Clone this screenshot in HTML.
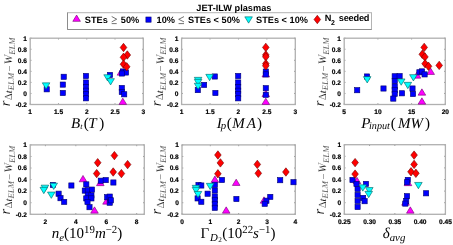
<!DOCTYPE html>
<html><head><meta charset="utf-8"><style>
html,body{margin:0;padding:0;background:#fff;width:453px;height:245px;overflow:hidden}
svg{display:block;will-change:transform} text{text-rendering:geometricPrecision}
.tl{font-family:"Liberation Sans",sans-serif;font-weight:bold;font-size:6.6px;fill:#000;stroke:#000;stroke-width:0.2px}
.title{font-family:"Liberation Sans",sans-serif;font-weight:bold;font-size:9.2px;fill:#000}
.lg{font-family:"Liberation Sans",sans-serif;font-weight:bold;font-size:9.2px;fill:#000}
.sym{font-family:"Liberation Serif",serif;font-weight:normal}
.lab{font-family:"Liberation Serif",serif;font-size:12px;fill:#000;stroke:#fff;stroke-width:0.15px;paint-order:normal}
.xl{font-family:"Liberation Serif",serif;font-size:15px;fill:#000}
.it{font-style:italic}
.sub{font-size:0.72em}
.sub2{font-size:0.75em}
</style></head><body>
<svg width="453" height="245" viewBox="0 0 453 245">
<rect width="453" height="245" fill="#fff"/>
<line x1="30.20" y1="104.5" x2="30.20" y2="103.2" stroke="#808080" stroke-width="0.8"/>
<line x1="30.20" y1="38.2" x2="30.20" y2="39.5" stroke="#808080" stroke-width="0.8"/>
<text x="30.20" y="114.10" class="tl" text-anchor="middle">1</text>
<line x1="58.48" y1="104.5" x2="58.48" y2="103.2" stroke="#808080" stroke-width="0.8"/>
<line x1="58.48" y1="38.2" x2="58.48" y2="39.5" stroke="#808080" stroke-width="0.8"/>
<text x="58.48" y="114.10" class="tl" text-anchor="middle">1.5</text>
<line x1="86.75" y1="104.5" x2="86.75" y2="103.2" stroke="#808080" stroke-width="0.8"/>
<line x1="86.75" y1="38.2" x2="86.75" y2="39.5" stroke="#808080" stroke-width="0.8"/>
<text x="86.75" y="114.10" class="tl" text-anchor="middle">2</text>
<line x1="115.03" y1="104.5" x2="115.03" y2="103.2" stroke="#808080" stroke-width="0.8"/>
<line x1="115.03" y1="38.2" x2="115.03" y2="39.5" stroke="#808080" stroke-width="0.8"/>
<text x="115.03" y="114.10" class="tl" text-anchor="middle">2.5</text>
<line x1="143.30" y1="104.5" x2="143.30" y2="103.2" stroke="#808080" stroke-width="0.8"/>
<line x1="143.30" y1="38.2" x2="143.30" y2="39.5" stroke="#808080" stroke-width="0.8"/>
<text x="143.30" y="114.10" class="tl" text-anchor="middle">3</text>
<line x1="30.2" y1="104.50" x2="31.5" y2="104.50" stroke="#808080" stroke-width="0.8"/>
<line x1="143.3" y1="104.50" x2="142.0" y2="104.50" stroke="#808080" stroke-width="0.8"/>
<text x="27.00" y="106.80" class="tl" text-anchor="end">-0.2</text>
<line x1="30.2" y1="93.45" x2="31.5" y2="93.45" stroke="#808080" stroke-width="0.8"/>
<line x1="143.3" y1="93.45" x2="142.0" y2="93.45" stroke="#808080" stroke-width="0.8"/>
<text x="27.00" y="95.75" class="tl" text-anchor="end">0</text>
<line x1="30.2" y1="82.40" x2="31.5" y2="82.40" stroke="#808080" stroke-width="0.8"/>
<line x1="143.3" y1="82.40" x2="142.0" y2="82.40" stroke="#808080" stroke-width="0.8"/>
<text x="27.00" y="84.70" class="tl" text-anchor="end">0.2</text>
<line x1="30.2" y1="71.35" x2="31.5" y2="71.35" stroke="#808080" stroke-width="0.8"/>
<line x1="143.3" y1="71.35" x2="142.0" y2="71.35" stroke="#808080" stroke-width="0.8"/>
<text x="27.00" y="73.65" class="tl" text-anchor="end">0.4</text>
<line x1="30.2" y1="60.30" x2="31.5" y2="60.30" stroke="#808080" stroke-width="0.8"/>
<line x1="143.3" y1="60.30" x2="142.0" y2="60.30" stroke="#808080" stroke-width="0.8"/>
<text x="27.00" y="62.60" class="tl" text-anchor="end">0.6</text>
<line x1="30.2" y1="49.25" x2="31.5" y2="49.25" stroke="#808080" stroke-width="0.8"/>
<line x1="143.3" y1="49.25" x2="142.0" y2="49.25" stroke="#808080" stroke-width="0.8"/>
<text x="27.00" y="51.55" class="tl" text-anchor="end">0.8</text>
<line x1="30.2" y1="38.20" x2="31.5" y2="38.20" stroke="#808080" stroke-width="0.8"/>
<line x1="143.3" y1="38.20" x2="142.0" y2="38.20" stroke="#808080" stroke-width="0.8"/>
<text x="27.00" y="40.50" class="tl" text-anchor="end">1</text>
<rect x="30.2" y="38.2" width="113.10000000000001" height="66.3" fill="none" stroke="#b0b0b0" stroke-width="1.3"/>
<path d="M121.00 68.85L124.80 75.15L117.20 75.15Z" fill="#ff00ff" stroke="#700070" stroke-width="0.6"/>
<path d="M122.80 98.15L126.60 104.45L119.00 104.45Z" fill="#ff00ff" stroke="#700070" stroke-width="0.6"/>
<rect x="44.10" y="86.70" width="5.2" height="5.2" fill="#0000ff" stroke="#000070" stroke-width="0.6"/>
<rect x="61.10" y="74.20" width="5.2" height="5.2" fill="#0000ff" stroke="#000070" stroke-width="0.6"/>
<rect x="60.20" y="82.00" width="5.2" height="5.2" fill="#0000ff" stroke="#000070" stroke-width="0.6"/>
<rect x="60.20" y="90.40" width="5.2" height="5.2" fill="#0000ff" stroke="#000070" stroke-width="0.6"/>
<rect x="83.40" y="73.40" width="5.2" height="5.2" fill="#0000ff" stroke="#000070" stroke-width="0.6"/>
<rect x="83.40" y="79.90" width="5.2" height="5.2" fill="#0000ff" stroke="#000070" stroke-width="0.6"/>
<rect x="83.40" y="84.40" width="5.2" height="5.2" fill="#0000ff" stroke="#000070" stroke-width="0.6"/>
<rect x="83.40" y="88.10" width="5.2" height="5.2" fill="#0000ff" stroke="#000070" stroke-width="0.6"/>
<rect x="83.40" y="91.60" width="5.2" height="5.2" fill="#0000ff" stroke="#000070" stroke-width="0.6"/>
<rect x="83.40" y="95.70" width="5.2" height="5.2" fill="#0000ff" stroke="#000070" stroke-width="0.6"/>
<rect x="107.40" y="72.40" width="5.2" height="5.2" fill="#0000ff" stroke="#000070" stroke-width="0.6"/>
<rect x="120.40" y="68.90" width="5.2" height="5.2" fill="#0000ff" stroke="#000070" stroke-width="0.6"/>
<rect x="123.40" y="69.90" width="5.2" height="5.2" fill="#0000ff" stroke="#000070" stroke-width="0.6"/>
<rect x="119.40" y="70.90" width="5.2" height="5.2" fill="#0000ff" stroke="#000070" stroke-width="0.6"/>
<rect x="119.20" y="85.40" width="5.2" height="5.2" fill="#0000ff" stroke="#000070" stroke-width="0.6"/>
<rect x="119.20" y="89.40" width="5.2" height="5.2" fill="#0000ff" stroke="#000070" stroke-width="0.6"/>
<rect x="121.60" y="91.70" width="5.2" height="5.2" fill="#0000ff" stroke="#000070" stroke-width="0.6"/>
<path d="M42.30 82.85L49.90 82.85L46.10 89.15Z" fill="#00ffff" stroke="#006060" stroke-width="0.6"/>
<path d="M103.80 74.75L111.40 74.75L107.60 81.05Z" fill="#00ffff" stroke="#006060" stroke-width="0.6"/>
<path d="M106.80 78.65L114.40 78.65L110.60 84.95Z" fill="#00ffff" stroke="#006060" stroke-width="0.6"/>
<path d="M123.50 43.30L126.80 47.50L123.50 51.70L120.20 47.50Z" fill="#ff0000" stroke="#700000" stroke-width="0.6"/>
<path d="M127.30 50.80L130.60 55.00L127.30 59.20L124.00 55.00Z" fill="#ff0000" stroke="#700000" stroke-width="0.6"/>
<path d="M123.50 53.10L126.80 57.30L123.50 61.50L120.20 57.30Z" fill="#ff0000" stroke="#700000" stroke-width="0.6"/>
<path d="M123.50 60.00L126.80 64.20L123.50 68.40L120.20 64.20Z" fill="#ff0000" stroke="#700000" stroke-width="0.6"/>
<path d="M126.70 62.60L130.00 66.80L126.70 71.00L123.40 66.80Z" fill="#ff0000" stroke="#700000" stroke-width="0.6"/>
<line x1="181.60" y1="104.5" x2="181.60" y2="103.2" stroke="#808080" stroke-width="0.8"/>
<line x1="181.60" y1="38.2" x2="181.60" y2="39.5" stroke="#808080" stroke-width="0.8"/>
<text x="181.60" y="114.10" class="tl" text-anchor="middle">1</text>
<line x1="210.03" y1="104.5" x2="210.03" y2="103.2" stroke="#808080" stroke-width="0.8"/>
<line x1="210.03" y1="38.2" x2="210.03" y2="39.5" stroke="#808080" stroke-width="0.8"/>
<text x="210.03" y="114.10" class="tl" text-anchor="middle">1.5</text>
<line x1="238.45" y1="104.5" x2="238.45" y2="103.2" stroke="#808080" stroke-width="0.8"/>
<line x1="238.45" y1="38.2" x2="238.45" y2="39.5" stroke="#808080" stroke-width="0.8"/>
<text x="238.45" y="114.10" class="tl" text-anchor="middle">2</text>
<line x1="266.88" y1="104.5" x2="266.88" y2="103.2" stroke="#808080" stroke-width="0.8"/>
<line x1="266.88" y1="38.2" x2="266.88" y2="39.5" stroke="#808080" stroke-width="0.8"/>
<text x="266.88" y="114.10" class="tl" text-anchor="middle">2.5</text>
<line x1="295.30" y1="104.5" x2="295.30" y2="103.2" stroke="#808080" stroke-width="0.8"/>
<line x1="295.30" y1="38.2" x2="295.30" y2="39.5" stroke="#808080" stroke-width="0.8"/>
<text x="295.30" y="114.10" class="tl" text-anchor="middle">3</text>
<line x1="181.6" y1="104.50" x2="182.9" y2="104.50" stroke="#808080" stroke-width="0.8"/>
<line x1="295.3" y1="104.50" x2="294.0" y2="104.50" stroke="#808080" stroke-width="0.8"/>
<text x="178.40" y="106.80" class="tl" text-anchor="end">-0.2</text>
<line x1="181.6" y1="93.45" x2="182.9" y2="93.45" stroke="#808080" stroke-width="0.8"/>
<line x1="295.3" y1="93.45" x2="294.0" y2="93.45" stroke="#808080" stroke-width="0.8"/>
<text x="178.40" y="95.75" class="tl" text-anchor="end">0</text>
<line x1="181.6" y1="82.40" x2="182.9" y2="82.40" stroke="#808080" stroke-width="0.8"/>
<line x1="295.3" y1="82.40" x2="294.0" y2="82.40" stroke="#808080" stroke-width="0.8"/>
<text x="178.40" y="84.70" class="tl" text-anchor="end">0.2</text>
<line x1="181.6" y1="71.35" x2="182.9" y2="71.35" stroke="#808080" stroke-width="0.8"/>
<line x1="295.3" y1="71.35" x2="294.0" y2="71.35" stroke="#808080" stroke-width="0.8"/>
<text x="178.40" y="73.65" class="tl" text-anchor="end">0.4</text>
<line x1="181.6" y1="60.30" x2="182.9" y2="60.30" stroke="#808080" stroke-width="0.8"/>
<line x1="295.3" y1="60.30" x2="294.0" y2="60.30" stroke="#808080" stroke-width="0.8"/>
<text x="178.40" y="62.60" class="tl" text-anchor="end">0.6</text>
<line x1="181.6" y1="49.25" x2="182.9" y2="49.25" stroke="#808080" stroke-width="0.8"/>
<line x1="295.3" y1="49.25" x2="294.0" y2="49.25" stroke="#808080" stroke-width="0.8"/>
<text x="178.40" y="51.55" class="tl" text-anchor="end">0.8</text>
<line x1="181.6" y1="38.20" x2="182.9" y2="38.20" stroke="#808080" stroke-width="0.8"/>
<line x1="295.3" y1="38.20" x2="294.0" y2="38.20" stroke="#808080" stroke-width="0.8"/>
<text x="178.40" y="40.50" class="tl" text-anchor="end">1</text>
<rect x="181.6" y="38.2" width="113.70000000000002" height="66.3" fill="none" stroke="#b0b0b0" stroke-width="1.3"/>
<path d="M265.80 70.65L269.60 76.95L262.00 76.95Z" fill="#ff00ff" stroke="#700070" stroke-width="0.6"/>
<path d="M265.80 90.35L269.60 96.65L262.00 96.65Z" fill="#ff00ff" stroke="#700070" stroke-width="0.6"/>
<path d="M265.80 98.15L269.60 104.45L262.00 104.45Z" fill="#ff00ff" stroke="#700070" stroke-width="0.6"/>
<rect x="195.20" y="87.50" width="5.2" height="5.2" fill="#0000ff" stroke="#000070" stroke-width="0.6"/>
<rect x="201.50" y="82.30" width="5.2" height="5.2" fill="#0000ff" stroke="#000070" stroke-width="0.6"/>
<rect x="212.20" y="73.90" width="5.2" height="5.2" fill="#0000ff" stroke="#000070" stroke-width="0.6"/>
<rect x="212.80" y="90.40" width="5.2" height="5.2" fill="#0000ff" stroke="#000070" stroke-width="0.6"/>
<rect x="235.60" y="73.40" width="5.2" height="5.2" fill="#0000ff" stroke="#000070" stroke-width="0.6"/>
<rect x="235.60" y="79.90" width="5.2" height="5.2" fill="#0000ff" stroke="#000070" stroke-width="0.6"/>
<rect x="235.60" y="84.40" width="5.2" height="5.2" fill="#0000ff" stroke="#000070" stroke-width="0.6"/>
<rect x="235.60" y="88.10" width="5.2" height="5.2" fill="#0000ff" stroke="#000070" stroke-width="0.6"/>
<rect x="235.60" y="91.60" width="5.2" height="5.2" fill="#0000ff" stroke="#000070" stroke-width="0.6"/>
<rect x="235.60" y="95.70" width="5.2" height="5.2" fill="#0000ff" stroke="#000070" stroke-width="0.6"/>
<rect x="263.20" y="69.00" width="5.2" height="5.2" fill="#0000ff" stroke="#000070" stroke-width="0.6"/>
<rect x="263.20" y="71.80" width="5.2" height="5.2" fill="#0000ff" stroke="#000070" stroke-width="0.6"/>
<rect x="263.20" y="85.60" width="5.2" height="5.2" fill="#0000ff" stroke="#000070" stroke-width="0.6"/>
<rect x="263.20" y="92.20" width="5.2" height="5.2" fill="#0000ff" stroke="#000070" stroke-width="0.6"/>
<path d="M194.30 77.35L201.90 77.35L198.10 83.65Z" fill="#00ffff" stroke="#006060" stroke-width="0.6"/>
<path d="M194.30 79.35L201.90 79.35L198.10 85.65Z" fill="#00ffff" stroke="#006060" stroke-width="0.6"/>
<path d="M194.30 83.25L201.90 83.25L198.10 89.55Z" fill="#00ffff" stroke="#006060" stroke-width="0.6"/>
<path d="M205.80 74.35L213.40 74.35L209.60 80.65Z" fill="#00ffff" stroke="#006060" stroke-width="0.6"/>
<path d="M265.80 43.20L269.10 47.40L265.80 51.60L262.50 47.40Z" fill="#ff0000" stroke="#700000" stroke-width="0.6"/>
<path d="M265.80 50.70L269.10 54.90L265.80 59.10L262.50 54.90Z" fill="#ff0000" stroke="#700000" stroke-width="0.6"/>
<path d="M265.80 52.55L269.10 56.75L265.80 60.95L262.50 56.75Z" fill="#ff0000" stroke="#700000" stroke-width="0.6"/>
<path d="M265.80 59.50L269.10 63.70L265.80 67.90L262.50 63.70Z" fill="#ff0000" stroke="#700000" stroke-width="0.6"/>
<path d="M265.80 61.60L269.10 65.80L265.80 70.00L262.50 65.80Z" fill="#ff0000" stroke="#700000" stroke-width="0.6"/>
<line x1="344.20" y1="104.5" x2="344.20" y2="103.2" stroke="#808080" stroke-width="0.8"/>
<line x1="344.20" y1="38.2" x2="344.20" y2="39.5" stroke="#808080" stroke-width="0.8"/>
<text x="344.20" y="114.10" class="tl" text-anchor="middle">5</text>
<line x1="377.90" y1="104.5" x2="377.90" y2="103.2" stroke="#808080" stroke-width="0.8"/>
<line x1="377.90" y1="38.2" x2="377.90" y2="39.5" stroke="#808080" stroke-width="0.8"/>
<text x="377.90" y="114.10" class="tl" text-anchor="middle">10</text>
<line x1="411.60" y1="104.5" x2="411.60" y2="103.2" stroke="#808080" stroke-width="0.8"/>
<line x1="411.60" y1="38.2" x2="411.60" y2="39.5" stroke="#808080" stroke-width="0.8"/>
<text x="411.60" y="114.10" class="tl" text-anchor="middle">15</text>
<line x1="445.30" y1="104.5" x2="445.30" y2="103.2" stroke="#808080" stroke-width="0.8"/>
<line x1="445.30" y1="38.2" x2="445.30" y2="39.5" stroke="#808080" stroke-width="0.8"/>
<text x="445.30" y="114.10" class="tl" text-anchor="middle">20</text>
<line x1="344.2" y1="104.50" x2="345.5" y2="104.50" stroke="#808080" stroke-width="0.8"/>
<line x1="445.3" y1="104.50" x2="444.0" y2="104.50" stroke="#808080" stroke-width="0.8"/>
<text x="341.00" y="106.80" class="tl" text-anchor="end">-0.2</text>
<line x1="344.2" y1="93.45" x2="345.5" y2="93.45" stroke="#808080" stroke-width="0.8"/>
<line x1="445.3" y1="93.45" x2="444.0" y2="93.45" stroke="#808080" stroke-width="0.8"/>
<text x="341.00" y="95.75" class="tl" text-anchor="end">0</text>
<line x1="344.2" y1="82.40" x2="345.5" y2="82.40" stroke="#808080" stroke-width="0.8"/>
<line x1="445.3" y1="82.40" x2="444.0" y2="82.40" stroke="#808080" stroke-width="0.8"/>
<text x="341.00" y="84.70" class="tl" text-anchor="end">0.2</text>
<line x1="344.2" y1="71.35" x2="345.5" y2="71.35" stroke="#808080" stroke-width="0.8"/>
<line x1="445.3" y1="71.35" x2="444.0" y2="71.35" stroke="#808080" stroke-width="0.8"/>
<text x="341.00" y="73.65" class="tl" text-anchor="end">0.4</text>
<line x1="344.2" y1="60.30" x2="345.5" y2="60.30" stroke="#808080" stroke-width="0.8"/>
<line x1="445.3" y1="60.30" x2="444.0" y2="60.30" stroke="#808080" stroke-width="0.8"/>
<text x="341.00" y="62.60" class="tl" text-anchor="end">0.6</text>
<line x1="344.2" y1="49.25" x2="345.5" y2="49.25" stroke="#808080" stroke-width="0.8"/>
<line x1="445.3" y1="49.25" x2="444.0" y2="49.25" stroke="#808080" stroke-width="0.8"/>
<text x="341.00" y="51.55" class="tl" text-anchor="end">0.8</text>
<line x1="344.2" y1="38.20" x2="345.5" y2="38.20" stroke="#808080" stroke-width="0.8"/>
<line x1="445.3" y1="38.20" x2="444.0" y2="38.20" stroke="#808080" stroke-width="0.8"/>
<text x="341.00" y="40.50" class="tl" text-anchor="end">1</text>
<rect x="344.2" y="38.2" width="101.10000000000002" height="66.3" fill="none" stroke="#b0b0b0" stroke-width="1.3"/>
<path d="M417.00 71.85L420.80 78.15L413.20 78.15Z" fill="#ff00ff" stroke="#700070" stroke-width="0.6"/>
<path d="M430.70 68.15L434.50 74.45L426.90 74.45Z" fill="#ff00ff" stroke="#700070" stroke-width="0.6"/>
<path d="M421.90 88.85L425.70 95.15L418.10 95.15Z" fill="#ff00ff" stroke="#700070" stroke-width="0.6"/>
<path d="M421.90 97.85L425.70 104.15L418.10 104.15Z" fill="#ff00ff" stroke="#700070" stroke-width="0.6"/>
<rect x="354.60" y="87.60" width="5.2" height="5.2" fill="#0000ff" stroke="#000070" stroke-width="0.6"/>
<rect x="364.40" y="73.90" width="5.2" height="5.2" fill="#0000ff" stroke="#000070" stroke-width="0.6"/>
<rect x="380.90" y="85.90" width="5.2" height="5.2" fill="#0000ff" stroke="#000070" stroke-width="0.6"/>
<rect x="392.10" y="73.70" width="5.2" height="5.2" fill="#0000ff" stroke="#000070" stroke-width="0.6"/>
<rect x="392.10" y="78.40" width="5.2" height="5.2" fill="#0000ff" stroke="#000070" stroke-width="0.6"/>
<rect x="392.10" y="83.90" width="5.2" height="5.2" fill="#0000ff" stroke="#000070" stroke-width="0.6"/>
<rect x="392.10" y="87.60" width="5.2" height="5.2" fill="#0000ff" stroke="#000070" stroke-width="0.6"/>
<rect x="392.10" y="91.20" width="5.2" height="5.2" fill="#0000ff" stroke="#000070" stroke-width="0.6"/>
<rect x="390.70" y="96.00" width="5.2" height="5.2" fill="#0000ff" stroke="#000070" stroke-width="0.6"/>
<rect x="397.00" y="73.50" width="5.2" height="5.2" fill="#0000ff" stroke="#000070" stroke-width="0.6"/>
<rect x="399.40" y="90.70" width="5.2" height="5.2" fill="#0000ff" stroke="#000070" stroke-width="0.6"/>
<rect x="409.90" y="85.90" width="5.2" height="5.2" fill="#0000ff" stroke="#000070" stroke-width="0.6"/>
<rect x="410.40" y="91.40" width="5.2" height="5.2" fill="#0000ff" stroke="#000070" stroke-width="0.6"/>
<rect x="416.80" y="69.70" width="5.2" height="5.2" fill="#0000ff" stroke="#000070" stroke-width="0.6"/>
<rect x="419.40" y="68.80" width="5.2" height="5.2" fill="#0000ff" stroke="#000070" stroke-width="0.6"/>
<rect x="422.00" y="71.80" width="5.2" height="5.2" fill="#0000ff" stroke="#000070" stroke-width="0.6"/>
<path d="M363.40 76.65L371.00 76.65L367.20 82.95Z" fill="#00ffff" stroke="#006060" stroke-width="0.6"/>
<path d="M397.40 78.95L405.00 78.95L401.20 85.25Z" fill="#00ffff" stroke="#006060" stroke-width="0.6"/>
<path d="M404.00 82.35L411.60 82.35L407.80 88.65Z" fill="#00ffff" stroke="#006060" stroke-width="0.6"/>
<path d="M409.60 74.65L417.20 74.65L413.40 80.95Z" fill="#00ffff" stroke="#006060" stroke-width="0.6"/>
<path d="M424.20 43.20L427.50 47.40L424.20 51.60L420.90 47.40Z" fill="#ff0000" stroke="#700000" stroke-width="0.6"/>
<path d="M422.30 50.10L425.60 54.30L422.30 58.50L419.00 54.30Z" fill="#ff0000" stroke="#700000" stroke-width="0.6"/>
<path d="M424.90 52.70L428.20 56.90L424.90 61.10L421.60 56.90Z" fill="#ff0000" stroke="#700000" stroke-width="0.6"/>
<path d="M425.10 59.50L428.40 63.70L425.10 67.90L421.80 63.70Z" fill="#ff0000" stroke="#700000" stroke-width="0.6"/>
<path d="M428.50 62.10L431.80 66.30L428.50 70.50L425.20 66.30Z" fill="#ff0000" stroke="#700000" stroke-width="0.6"/>
<path d="M439.20 61.20L442.50 65.40L439.20 69.60L435.90 65.40Z" fill="#ff0000" stroke="#700000" stroke-width="0.6"/>
<line x1="45.41" y1="214.3" x2="45.41" y2="213.0" stroke="#808080" stroke-width="0.8"/>
<line x1="45.41" y1="144.9" x2="45.41" y2="146.20000000000002" stroke="#808080" stroke-width="0.8"/>
<text x="45.41" y="223.90" class="tl" text-anchor="middle">2</text>
<line x1="75.84" y1="214.3" x2="75.84" y2="213.0" stroke="#808080" stroke-width="0.8"/>
<line x1="75.84" y1="144.9" x2="75.84" y2="146.20000000000002" stroke="#808080" stroke-width="0.8"/>
<text x="75.84" y="223.90" class="tl" text-anchor="middle">4</text>
<line x1="106.27" y1="214.3" x2="106.27" y2="213.0" stroke="#808080" stroke-width="0.8"/>
<line x1="106.27" y1="144.9" x2="106.27" y2="146.20000000000002" stroke="#808080" stroke-width="0.8"/>
<text x="106.27" y="223.90" class="tl" text-anchor="middle">6</text>
<line x1="136.69" y1="214.3" x2="136.69" y2="213.0" stroke="#808080" stroke-width="0.8"/>
<line x1="136.69" y1="144.9" x2="136.69" y2="146.20000000000002" stroke="#808080" stroke-width="0.8"/>
<text x="136.69" y="223.90" class="tl" text-anchor="middle">8</text>
<line x1="30.2" y1="214.30" x2="31.5" y2="214.30" stroke="#808080" stroke-width="0.8"/>
<line x1="144.3" y1="214.30" x2="143.0" y2="214.30" stroke="#808080" stroke-width="0.8"/>
<text x="27.00" y="216.60" class="tl" text-anchor="end">-0.2</text>
<line x1="30.2" y1="202.73" x2="31.5" y2="202.73" stroke="#808080" stroke-width="0.8"/>
<line x1="144.3" y1="202.73" x2="143.0" y2="202.73" stroke="#808080" stroke-width="0.8"/>
<text x="27.00" y="205.03" class="tl" text-anchor="end">0</text>
<line x1="30.2" y1="191.17" x2="31.5" y2="191.17" stroke="#808080" stroke-width="0.8"/>
<line x1="144.3" y1="191.17" x2="143.0" y2="191.17" stroke="#808080" stroke-width="0.8"/>
<text x="27.00" y="193.47" class="tl" text-anchor="end">0.2</text>
<line x1="30.2" y1="179.60" x2="31.5" y2="179.60" stroke="#808080" stroke-width="0.8"/>
<line x1="144.3" y1="179.60" x2="143.0" y2="179.60" stroke="#808080" stroke-width="0.8"/>
<text x="27.00" y="181.90" class="tl" text-anchor="end">0.4</text>
<line x1="30.2" y1="168.03" x2="31.5" y2="168.03" stroke="#808080" stroke-width="0.8"/>
<line x1="144.3" y1="168.03" x2="143.0" y2="168.03" stroke="#808080" stroke-width="0.8"/>
<text x="27.00" y="170.33" class="tl" text-anchor="end">0.6</text>
<line x1="30.2" y1="156.47" x2="31.5" y2="156.47" stroke="#808080" stroke-width="0.8"/>
<line x1="144.3" y1="156.47" x2="143.0" y2="156.47" stroke="#808080" stroke-width="0.8"/>
<text x="27.00" y="158.77" class="tl" text-anchor="end">0.8</text>
<line x1="30.2" y1="144.90" x2="31.5" y2="144.90" stroke="#808080" stroke-width="0.8"/>
<line x1="144.3" y1="144.90" x2="143.0" y2="144.90" stroke="#808080" stroke-width="0.8"/>
<text x="27.00" y="147.20" class="tl" text-anchor="end">1</text>
<rect x="30.2" y="144.9" width="114.10000000000001" height="69.4" fill="none" stroke="#b0b0b0" stroke-width="1.3"/>
<path d="M83.00 175.45L86.80 181.75L79.20 181.75Z" fill="#ff00ff" stroke="#700070" stroke-width="0.6"/>
<path d="M100.30 179.35L104.10 185.65L96.50 185.65Z" fill="#ff00ff" stroke="#700070" stroke-width="0.6"/>
<path d="M106.50 197.85L110.30 204.15L102.70 204.15Z" fill="#ff00ff" stroke="#700070" stroke-width="0.6"/>
<path d="M94.50 206.85L98.30 213.15L90.70 213.15Z" fill="#ff00ff" stroke="#700070" stroke-width="0.6"/>
<rect x="50.30" y="182.40" width="5.2" height="5.2" fill="#0000ff" stroke="#000070" stroke-width="0.6"/>
<rect x="56.00" y="191.10" width="5.2" height="5.2" fill="#0000ff" stroke="#000070" stroke-width="0.6"/>
<rect x="57.90" y="195.60" width="5.2" height="5.2" fill="#0000ff" stroke="#000070" stroke-width="0.6"/>
<rect x="61.60" y="199.30" width="5.2" height="5.2" fill="#0000ff" stroke="#000070" stroke-width="0.6"/>
<rect x="68.80" y="182.90" width="5.2" height="5.2" fill="#0000ff" stroke="#000070" stroke-width="0.6"/>
<rect x="83.70" y="181.80" width="5.2" height="5.2" fill="#0000ff" stroke="#000070" stroke-width="0.6"/>
<rect x="82.20" y="188.00" width="5.2" height="5.2" fill="#0000ff" stroke="#000070" stroke-width="0.6"/>
<rect x="85.20" y="187.70" width="5.2" height="5.2" fill="#0000ff" stroke="#000070" stroke-width="0.6"/>
<rect x="89.30" y="187.00" width="5.2" height="5.2" fill="#0000ff" stroke="#000070" stroke-width="0.6"/>
<rect x="85.20" y="192.10" width="5.2" height="5.2" fill="#0000ff" stroke="#000070" stroke-width="0.6"/>
<rect x="88.80" y="192.80" width="5.2" height="5.2" fill="#0000ff" stroke="#000070" stroke-width="0.6"/>
<rect x="83.70" y="195.80" width="5.2" height="5.2" fill="#0000ff" stroke="#000070" stroke-width="0.6"/>
<rect x="88.80" y="195.80" width="5.2" height="5.2" fill="#0000ff" stroke="#000070" stroke-width="0.6"/>
<rect x="84.90" y="199.40" width="5.2" height="5.2" fill="#0000ff" stroke="#000070" stroke-width="0.6"/>
<rect x="86.90" y="204.60" width="5.2" height="5.2" fill="#0000ff" stroke="#000070" stroke-width="0.6"/>
<rect x="98.20" y="178.10" width="5.2" height="5.2" fill="#0000ff" stroke="#000070" stroke-width="0.6"/>
<rect x="103.10" y="177.50" width="5.2" height="5.2" fill="#0000ff" stroke="#000070" stroke-width="0.6"/>
<rect x="110.80" y="179.90" width="5.2" height="5.2" fill="#0000ff" stroke="#000070" stroke-width="0.6"/>
<rect x="104.60" y="194.60" width="5.2" height="5.2" fill="#0000ff" stroke="#000070" stroke-width="0.6"/>
<rect x="107.10" y="194.00" width="5.2" height="5.2" fill="#0000ff" stroke="#000070" stroke-width="0.6"/>
<rect x="107.10" y="200.10" width="5.2" height="5.2" fill="#0000ff" stroke="#000070" stroke-width="0.6"/>
<rect x="108.30" y="197.70" width="5.2" height="5.2" fill="#0000ff" stroke="#000070" stroke-width="0.6"/>
<path d="M41.10 185.15L48.70 185.15L44.90 191.45Z" fill="#00ffff" stroke="#006060" stroke-width="0.6"/>
<path d="M40.00 187.35L47.60 187.35L43.80 193.65Z" fill="#00ffff" stroke="#006060" stroke-width="0.6"/>
<path d="M49.90 183.15L57.50 183.15L53.70 189.45Z" fill="#00ffff" stroke="#006060" stroke-width="0.6"/>
<path d="M47.50 192.05L55.10 192.05L51.30 198.35Z" fill="#00ffff" stroke="#006060" stroke-width="0.6"/>
<path d="M114.40 151.40L117.70 155.60L114.40 159.80L111.10 155.60Z" fill="#ff0000" stroke="#700000" stroke-width="0.6"/>
<path d="M97.70 158.50L101.00 162.70L97.70 166.90L94.40 162.70Z" fill="#ff0000" stroke="#700000" stroke-width="0.6"/>
<path d="M127.60 160.40L130.90 164.60L127.60 168.80L124.30 164.60Z" fill="#ff0000" stroke="#700000" stroke-width="0.6"/>
<path d="M96.70 169.40L100.00 173.60L96.70 177.80L93.40 173.60Z" fill="#ff0000" stroke="#700000" stroke-width="0.6"/>
<path d="M113.20 167.80L116.50 172.00L113.20 176.20L109.90 172.00Z" fill="#ff0000" stroke="#700000" stroke-width="0.6"/>
<path d="M121.40 169.40L124.70 173.60L121.40 177.80L118.10 173.60Z" fill="#ff0000" stroke="#700000" stroke-width="0.6"/>
<line x1="182.00" y1="214.3" x2="182.00" y2="213.0" stroke="#808080" stroke-width="0.8"/>
<line x1="182.00" y1="144.9" x2="182.00" y2="146.20000000000002" stroke="#808080" stroke-width="0.8"/>
<text x="182.00" y="223.90" class="tl" text-anchor="middle">0</text>
<line x1="210.32" y1="214.3" x2="210.32" y2="213.0" stroke="#808080" stroke-width="0.8"/>
<line x1="210.32" y1="144.9" x2="210.32" y2="146.20000000000002" stroke="#808080" stroke-width="0.8"/>
<text x="210.32" y="223.90" class="tl" text-anchor="middle">1</text>
<line x1="238.65" y1="214.3" x2="238.65" y2="213.0" stroke="#808080" stroke-width="0.8"/>
<line x1="238.65" y1="144.9" x2="238.65" y2="146.20000000000002" stroke="#808080" stroke-width="0.8"/>
<text x="238.65" y="223.90" class="tl" text-anchor="middle">2</text>
<line x1="266.98" y1="214.3" x2="266.98" y2="213.0" stroke="#808080" stroke-width="0.8"/>
<line x1="266.98" y1="144.9" x2="266.98" y2="146.20000000000002" stroke="#808080" stroke-width="0.8"/>
<text x="266.98" y="223.90" class="tl" text-anchor="middle">3</text>
<line x1="295.30" y1="214.3" x2="295.30" y2="213.0" stroke="#808080" stroke-width="0.8"/>
<line x1="295.30" y1="144.9" x2="295.30" y2="146.20000000000002" stroke="#808080" stroke-width="0.8"/>
<text x="295.30" y="223.90" class="tl" text-anchor="middle">4</text>
<line x1="182.0" y1="214.30" x2="183.3" y2="214.30" stroke="#808080" stroke-width="0.8"/>
<line x1="295.3" y1="214.30" x2="294.0" y2="214.30" stroke="#808080" stroke-width="0.8"/>
<text x="178.80" y="216.60" class="tl" text-anchor="end">-0.2</text>
<line x1="182.0" y1="202.73" x2="183.3" y2="202.73" stroke="#808080" stroke-width="0.8"/>
<line x1="295.3" y1="202.73" x2="294.0" y2="202.73" stroke="#808080" stroke-width="0.8"/>
<text x="178.80" y="205.03" class="tl" text-anchor="end">0</text>
<line x1="182.0" y1="191.17" x2="183.3" y2="191.17" stroke="#808080" stroke-width="0.8"/>
<line x1="295.3" y1="191.17" x2="294.0" y2="191.17" stroke="#808080" stroke-width="0.8"/>
<text x="178.80" y="193.47" class="tl" text-anchor="end">0.2</text>
<line x1="182.0" y1="179.60" x2="183.3" y2="179.60" stroke="#808080" stroke-width="0.8"/>
<line x1="295.3" y1="179.60" x2="294.0" y2="179.60" stroke="#808080" stroke-width="0.8"/>
<text x="178.80" y="181.90" class="tl" text-anchor="end">0.4</text>
<line x1="182.0" y1="168.03" x2="183.3" y2="168.03" stroke="#808080" stroke-width="0.8"/>
<line x1="295.3" y1="168.03" x2="294.0" y2="168.03" stroke="#808080" stroke-width="0.8"/>
<text x="178.80" y="170.33" class="tl" text-anchor="end">0.6</text>
<line x1="182.0" y1="156.47" x2="183.3" y2="156.47" stroke="#808080" stroke-width="0.8"/>
<line x1="295.3" y1="156.47" x2="294.0" y2="156.47" stroke="#808080" stroke-width="0.8"/>
<text x="178.80" y="158.77" class="tl" text-anchor="end">0.8</text>
<line x1="182.0" y1="144.90" x2="183.3" y2="144.90" stroke="#808080" stroke-width="0.8"/>
<line x1="295.3" y1="144.90" x2="294.0" y2="144.90" stroke="#808080" stroke-width="0.8"/>
<text x="178.80" y="147.20" class="tl" text-anchor="end">1</text>
<rect x="182.0" y="144.9" width="113.30000000000001" height="69.4" fill="none" stroke="#b0b0b0" stroke-width="1.3"/>
<path d="M214.90 176.05L218.70 182.35L211.10 182.35Z" fill="#ff00ff" stroke="#700070" stroke-width="0.6"/>
<path d="M236.20 179.15L240.00 185.45L232.40 185.45Z" fill="#ff00ff" stroke="#700070" stroke-width="0.6"/>
<path d="M226.20 206.85L230.00 213.15L222.40 213.15Z" fill="#ff00ff" stroke="#700070" stroke-width="0.6"/>
<path d="M264.00 196.85L267.80 203.15L260.20 203.15Z" fill="#ff00ff" stroke="#700070" stroke-width="0.6"/>
<rect x="195.90" y="182.40" width="5.2" height="5.2" fill="#0000ff" stroke="#000070" stroke-width="0.6"/>
<rect x="198.70" y="182.90" width="5.2" height="5.2" fill="#0000ff" stroke="#000070" stroke-width="0.6"/>
<rect x="195.00" y="195.80" width="5.2" height="5.2" fill="#0000ff" stroke="#000070" stroke-width="0.6"/>
<rect x="198.70" y="199.20" width="5.2" height="5.2" fill="#0000ff" stroke="#000070" stroke-width="0.6"/>
<rect x="205.00" y="191.10" width="5.2" height="5.2" fill="#0000ff" stroke="#000070" stroke-width="0.6"/>
<rect x="212.20" y="182.20" width="5.2" height="5.2" fill="#0000ff" stroke="#000070" stroke-width="0.6"/>
<rect x="212.20" y="187.90" width="5.2" height="5.2" fill="#0000ff" stroke="#000070" stroke-width="0.6"/>
<rect x="212.20" y="193.90" width="5.2" height="5.2" fill="#0000ff" stroke="#000070" stroke-width="0.6"/>
<rect x="212.20" y="197.60" width="5.2" height="5.2" fill="#0000ff" stroke="#000070" stroke-width="0.6"/>
<rect x="212.20" y="201.20" width="5.2" height="5.2" fill="#0000ff" stroke="#000070" stroke-width="0.6"/>
<rect x="212.20" y="205.20" width="5.2" height="5.2" fill="#0000ff" stroke="#000070" stroke-width="0.6"/>
<rect x="219.40" y="177.40" width="5.2" height="5.2" fill="#0000ff" stroke="#000070" stroke-width="0.6"/>
<rect x="233.80" y="196.40" width="5.2" height="5.2" fill="#0000ff" stroke="#000070" stroke-width="0.6"/>
<rect x="267.70" y="194.30" width="5.2" height="5.2" fill="#0000ff" stroke="#000070" stroke-width="0.6"/>
<rect x="263.80" y="198.10" width="5.2" height="5.2" fill="#0000ff" stroke="#000070" stroke-width="0.6"/>
<rect x="262.10" y="201.20" width="5.2" height="5.2" fill="#0000ff" stroke="#000070" stroke-width="0.6"/>
<rect x="277.60" y="177.60" width="5.2" height="5.2" fill="#0000ff" stroke="#000070" stroke-width="0.6"/>
<rect x="290.90" y="179.60" width="5.2" height="5.2" fill="#0000ff" stroke="#000070" stroke-width="0.6"/>
<path d="M192.20 185.35L199.80 185.35L196.00 191.65Z" fill="#00ffff" stroke="#006060" stroke-width="0.6"/>
<path d="M192.20 187.35L199.80 187.35L196.00 193.65Z" fill="#00ffff" stroke="#006060" stroke-width="0.6"/>
<path d="M194.20 191.45L201.80 191.45L198.00 197.75Z" fill="#00ffff" stroke="#006060" stroke-width="0.6"/>
<path d="M206.40 183.35L214.00 183.35L210.20 189.65Z" fill="#00ffff" stroke="#006060" stroke-width="0.6"/>
<path d="M217.90 150.80L221.20 155.00L217.90 159.20L214.60 155.00Z" fill="#ff0000" stroke="#700000" stroke-width="0.6"/>
<path d="M220.40 158.70L223.70 162.90L220.40 167.10L217.10 162.90Z" fill="#ff0000" stroke="#700000" stroke-width="0.6"/>
<path d="M217.90 169.60L221.20 173.80L217.90 178.00L214.60 173.80Z" fill="#ff0000" stroke="#700000" stroke-width="0.6"/>
<path d="M257.30 160.20L260.60 164.40L257.30 168.60L254.00 164.40Z" fill="#ff0000" stroke="#700000" stroke-width="0.6"/>
<path d="M258.30 169.10L261.60 173.30L258.30 177.50L255.00 173.30Z" fill="#ff0000" stroke="#700000" stroke-width="0.6"/>
<path d="M285.90 167.80L289.20 172.00L285.90 176.20L282.60 172.00Z" fill="#ff0000" stroke="#700000" stroke-width="0.6"/>
<line x1="344.30" y1="214.3" x2="344.30" y2="213.0" stroke="#808080" stroke-width="0.8"/>
<line x1="344.30" y1="144.7" x2="344.30" y2="146.0" stroke="#808080" stroke-width="0.8"/>
<text x="344.30" y="223.90" class="tl" text-anchor="middle">0.25</text>
<line x1="369.57" y1="214.3" x2="369.57" y2="213.0" stroke="#808080" stroke-width="0.8"/>
<line x1="369.57" y1="144.7" x2="369.57" y2="146.0" stroke="#808080" stroke-width="0.8"/>
<text x="369.57" y="223.90" class="tl" text-anchor="middle">0.30</text>
<line x1="394.85" y1="214.3" x2="394.85" y2="213.0" stroke="#808080" stroke-width="0.8"/>
<line x1="394.85" y1="144.7" x2="394.85" y2="146.0" stroke="#808080" stroke-width="0.8"/>
<text x="394.85" y="223.90" class="tl" text-anchor="middle">0.35</text>
<line x1="420.12" y1="214.3" x2="420.12" y2="213.0" stroke="#808080" stroke-width="0.8"/>
<line x1="420.12" y1="144.7" x2="420.12" y2="146.0" stroke="#808080" stroke-width="0.8"/>
<text x="420.12" y="223.90" class="tl" text-anchor="middle">0.40</text>
<line x1="445.40" y1="214.3" x2="445.40" y2="213.0" stroke="#808080" stroke-width="0.8"/>
<line x1="445.40" y1="144.7" x2="445.40" y2="146.0" stroke="#808080" stroke-width="0.8"/>
<text x="445.40" y="223.90" class="tl" text-anchor="middle">0.45</text>
<line x1="344.3" y1="214.30" x2="345.6" y2="214.30" stroke="#808080" stroke-width="0.8"/>
<line x1="445.4" y1="214.30" x2="444.09999999999997" y2="214.30" stroke="#808080" stroke-width="0.8"/>
<text x="341.10" y="216.60" class="tl" text-anchor="end">-0.2</text>
<line x1="344.3" y1="202.70" x2="345.6" y2="202.70" stroke="#808080" stroke-width="0.8"/>
<line x1="445.4" y1="202.70" x2="444.09999999999997" y2="202.70" stroke="#808080" stroke-width="0.8"/>
<text x="341.10" y="205.00" class="tl" text-anchor="end">0</text>
<line x1="344.3" y1="191.10" x2="345.6" y2="191.10" stroke="#808080" stroke-width="0.8"/>
<line x1="445.4" y1="191.10" x2="444.09999999999997" y2="191.10" stroke="#808080" stroke-width="0.8"/>
<text x="341.10" y="193.40" class="tl" text-anchor="end">0.2</text>
<line x1="344.3" y1="179.50" x2="345.6" y2="179.50" stroke="#808080" stroke-width="0.8"/>
<line x1="445.4" y1="179.50" x2="444.09999999999997" y2="179.50" stroke="#808080" stroke-width="0.8"/>
<text x="341.10" y="181.80" class="tl" text-anchor="end">0.4</text>
<line x1="344.3" y1="167.90" x2="345.6" y2="167.90" stroke="#808080" stroke-width="0.8"/>
<line x1="445.4" y1="167.90" x2="444.09999999999997" y2="167.90" stroke="#808080" stroke-width="0.8"/>
<text x="341.10" y="170.20" class="tl" text-anchor="end">0.6</text>
<line x1="344.3" y1="156.30" x2="345.6" y2="156.30" stroke="#808080" stroke-width="0.8"/>
<line x1="445.4" y1="156.30" x2="444.09999999999997" y2="156.30" stroke="#808080" stroke-width="0.8"/>
<text x="341.10" y="158.60" class="tl" text-anchor="end">0.8</text>
<line x1="344.3" y1="144.70" x2="345.6" y2="144.70" stroke="#808080" stroke-width="0.8"/>
<line x1="445.4" y1="144.70" x2="444.09999999999997" y2="144.70" stroke="#808080" stroke-width="0.8"/>
<text x="341.10" y="147.00" class="tl" text-anchor="end">1</text>
<rect x="344.3" y="144.7" width="101.09999999999997" height="69.60000000000002" fill="none" stroke="#b0b0b0" stroke-width="1.3"/>
<path d="M357.00 177.35L360.80 183.65L353.20 183.65Z" fill="#ff00ff" stroke="#700070" stroke-width="0.6"/>
<path d="M408.00 179.35L411.80 185.65L404.20 185.65Z" fill="#ff00ff" stroke="#700070" stroke-width="0.6"/>
<path d="M405.50 198.85L409.30 205.15L401.70 205.15Z" fill="#ff00ff" stroke="#700070" stroke-width="0.6"/>
<path d="M410.30 206.85L414.10 213.15L406.50 213.15Z" fill="#ff00ff" stroke="#700070" stroke-width="0.6"/>
<rect x="349.90" y="177.40" width="5.2" height="5.2" fill="#0000ff" stroke="#000070" stroke-width="0.6"/>
<rect x="353.90" y="181.30" width="5.2" height="5.2" fill="#0000ff" stroke="#000070" stroke-width="0.6"/>
<rect x="363.40" y="181.30" width="5.2" height="5.2" fill="#0000ff" stroke="#000070" stroke-width="0.6"/>
<rect x="355.00" y="186.40" width="5.2" height="5.2" fill="#0000ff" stroke="#000070" stroke-width="0.6"/>
<rect x="355.00" y="192.40" width="5.2" height="5.2" fill="#0000ff" stroke="#000070" stroke-width="0.6"/>
<rect x="355.00" y="198.40" width="5.2" height="5.2" fill="#0000ff" stroke="#000070" stroke-width="0.6"/>
<rect x="355.00" y="204.40" width="5.2" height="5.2" fill="#0000ff" stroke="#000070" stroke-width="0.6"/>
<rect x="360.50" y="195.30" width="5.2" height="5.2" fill="#0000ff" stroke="#000070" stroke-width="0.6"/>
<rect x="362.00" y="198.60" width="5.2" height="5.2" fill="#0000ff" stroke="#000070" stroke-width="0.6"/>
<rect x="405.20" y="177.30" width="5.2" height="5.2" fill="#0000ff" stroke="#000070" stroke-width="0.6"/>
<rect x="404.40" y="179.70" width="5.2" height="5.2" fill="#0000ff" stroke="#000070" stroke-width="0.6"/>
<rect x="423.50" y="190.70" width="5.2" height="5.2" fill="#0000ff" stroke="#000070" stroke-width="0.6"/>
<rect x="404.40" y="193.60" width="5.2" height="5.2" fill="#0000ff" stroke="#000070" stroke-width="0.6"/>
<rect x="403.60" y="198.50" width="5.2" height="5.2" fill="#0000ff" stroke="#000070" stroke-width="0.6"/>
<rect x="402.70" y="201.00" width="5.2" height="5.2" fill="#0000ff" stroke="#000070" stroke-width="0.6"/>
<path d="M359.00 184.85L366.60 184.85L362.80 191.15Z" fill="#00ffff" stroke="#006060" stroke-width="0.6"/>
<path d="M365.50 187.55L373.10 187.55L369.30 193.85Z" fill="#00ffff" stroke="#006060" stroke-width="0.6"/>
<path d="M364.90 191.35L372.50 191.35L368.70 197.65Z" fill="#00ffff" stroke="#006060" stroke-width="0.6"/>
<path d="M414.60 182.45L422.20 182.45L418.40 188.75Z" fill="#00ffff" stroke="#006060" stroke-width="0.6"/>
<path d="M355.10 158.40L358.40 162.60L355.10 166.80L351.80 162.60Z" fill="#ff0000" stroke="#700000" stroke-width="0.6"/>
<path d="M355.10 169.90L358.40 174.10L355.10 178.30L351.80 174.10Z" fill="#ff0000" stroke="#700000" stroke-width="0.6"/>
<path d="M414.10 150.90L417.40 155.10L414.10 159.30L410.80 155.10Z" fill="#ff0000" stroke="#700000" stroke-width="0.6"/>
<path d="M414.10 160.20L417.40 164.40L414.10 168.60L410.80 164.40Z" fill="#ff0000" stroke="#700000" stroke-width="0.6"/>
<path d="M411.00 167.60L414.30 171.80L411.00 176.00L407.70 171.80Z" fill="#ff0000" stroke="#700000" stroke-width="0.6"/>
<path d="M415.90 169.10L419.20 173.30L415.90 177.50L412.60 173.30Z" fill="#ff0000" stroke="#700000" stroke-width="0.6"/>
<text transform="translate(9.50,106.35) rotate(-90)" class="lab"><tspan font-size="15" font-style="italic">r</tspan><tspan font-size="10.8" dy="2.3" dx="0.3">&#916;</tspan><tspan font-size="10.8" font-style="italic">t</tspan><tspan font-size="8.7" font-style="italic" dy="2.4">ELM</tspan><tspan font-size="10.8" dy="-1.7" dx="1.5">&#8722;</tspan><tspan font-size="11.4" font-style="italic" dx="1.0" dy="-0.2">W</tspan><tspan font-size="8.7" font-style="italic" dy="2.3">ELM</tspan></text>
<text transform="translate(160.90,106.35) rotate(-90)" class="lab"><tspan font-size="15" font-style="italic">r</tspan><tspan font-size="10.8" dy="2.3" dx="0.3">&#916;</tspan><tspan font-size="10.8" font-style="italic">t</tspan><tspan font-size="8.7" font-style="italic" dy="2.4">ELM</tspan><tspan font-size="10.8" dy="-1.7" dx="1.5">&#8722;</tspan><tspan font-size="11.4" font-style="italic" dx="1.0" dy="-0.2">W</tspan><tspan font-size="8.7" font-style="italic" dy="2.3">ELM</tspan></text>
<text transform="translate(323.50,106.35) rotate(-90)" class="lab"><tspan font-size="15" font-style="italic">r</tspan><tspan font-size="10.8" dy="2.3" dx="0.3">&#916;</tspan><tspan font-size="10.8" font-style="italic">t</tspan><tspan font-size="8.7" font-style="italic" dy="2.4">ELM</tspan><tspan font-size="10.8" dy="-1.7" dx="1.5">&#8722;</tspan><tspan font-size="11.4" font-style="italic" dx="1.0" dy="-0.2">W</tspan><tspan font-size="8.7" font-style="italic" dy="2.3">ELM</tspan></text>
<text transform="translate(9.50,214.60) rotate(-90)" class="lab"><tspan font-size="15" font-style="italic">r</tspan><tspan font-size="10.8" dy="2.3" dx="0.3">&#916;</tspan><tspan font-size="10.8" font-style="italic">t</tspan><tspan font-size="8.7" font-style="italic" dy="2.4">ELM</tspan><tspan font-size="10.8" dy="-1.7" dx="1.5">&#8722;</tspan><tspan font-size="11.4" font-style="italic" dx="1.0" dy="-0.2">W</tspan><tspan font-size="8.7" font-style="italic" dy="2.3">ELM</tspan></text>
<text transform="translate(161.30,214.60) rotate(-90)" class="lab"><tspan font-size="15" font-style="italic">r</tspan><tspan font-size="10.8" dy="2.3" dx="0.3">&#916;</tspan><tspan font-size="10.8" font-style="italic">t</tspan><tspan font-size="8.7" font-style="italic" dy="2.4">ELM</tspan><tspan font-size="10.8" dy="-1.7" dx="1.5">&#8722;</tspan><tspan font-size="11.4" font-style="italic" dx="1.0" dy="-0.2">W</tspan><tspan font-size="8.7" font-style="italic" dy="2.3">ELM</tspan></text>
<text transform="translate(323.60,214.50) rotate(-90)" class="lab"><tspan font-size="15" font-style="italic">r</tspan><tspan font-size="10.8" dy="2.3" dx="0.3">&#916;</tspan><tspan font-size="10.8" font-style="italic">t</tspan><tspan font-size="8.7" font-style="italic" dy="2.4">ELM</tspan><tspan font-size="10.8" dy="-1.7" dx="1.5">&#8722;</tspan><tspan font-size="11.4" font-style="italic" dx="1.0" dy="-0.2">W</tspan><tspan font-size="8.7" font-style="italic" dy="2.3">ELM</tspan></text>
<text x="71.05" y="128.00" style="font-size:15px" font-style="italic" class="xl">B</text>
<text x="80.20" y="128.80" style="font-size:8.2px" font-style="italic" class="xl">t</text>
<text x="83.70" y="128.00" style="font-size:15px" class="xl">(</text>
<text x="88.30" y="128.00" style="font-size:15px" font-style="italic" class="xl">T</text>
<text x="99.20" y="128.00" style="font-size:15px" class="xl">)</text>
<text x="216.85" y="128.00" style="font-size:15px" font-style="italic" class="xl">I</text>
<text x="220.75" y="129.20" style="font-size:10.8px" font-style="italic" class="xl">p</text>
<text x="226.80" y="128.00" style="font-size:15px" class="xl">(</text>
<text x="232.20" y="128.00" style="font-size:15px" font-style="italic" class="xl">M</text>
<text x="246.85" y="128.00" style="font-size:15px" font-style="italic" class="xl">A</text>
<text x="257.10" y="128.00" style="font-size:15px" class="xl">)</text>
<text x="361.20" y="128.00" style="font-size:15px" font-style="italic" class="xl">P</text>
<text x="369.00" y="129.20" style="font-size:10.2px" font-style="italic" class="xl">input</text>
<text x="390.80" y="128.00" style="font-size:15px" class="xl">(</text>
<text x="397.95" y="128.00" style="font-size:15px" font-style="italic" class="xl">M</text>
<text x="410.45" y="128.00" style="font-size:15px" font-style="italic" class="xl">W</text>
<text x="425.10" y="128.00" style="font-size:15px" class="xl">)</text>
<text x="87" y="238.0" text-anchor="middle" class="xl"><tspan class="it">n</tspan><tspan class="it sub" dy="2.5">e</tspan><tspan dy="-2.5">(10</tspan><tspan class="sub" dy="-5">19</tspan><tspan class="it" dy="5">m</tspan><tspan class="sub" dy="-5">&#8722;2</tspan><tspan dy="5">)</tspan></text>
<text x="238" y="238.0" text-anchor="middle" class="xl">&#915;<tspan class="it sub" dy="2.5" dx="0.8">D</tspan><tspan style="font-size:7.2px" dy="1.5" dx="0.3">2</tspan><tspan dy="-4" dx="0.6">(10</tspan><tspan class="sub" dy="-5">22</tspan><tspan class="it" dy="5">s</tspan><tspan class="sub" dy="-5">&#8722;1</tspan><tspan dy="5">)</tspan></text>
<text x="394" y="238.0" text-anchor="middle" class="xl"><tspan class="it">&#948;</tspan><tspan class="it sub" dy="2.5">avg</tspan></text>

<rect x="67.5" y="12.7" width="304" height="16.8" fill="#fff" stroke="#b4b4b4" stroke-width="1"/><path d="M67.5 12.7V29.5H371.5" fill="none" stroke="#8c8c8c" stroke-width="1"/>
<text x="196.3" y="11" class="title">JET-ILW plasmas</text>
<path d="M76.60 15.05L80.40 21.35L72.80 21.35Z" fill="#ff00ff" stroke="#700070" stroke-width="0.6"/><rect x="145.90" y="17.00" width="5.2" height="5.2" fill="#0000ff" stroke="#000070" stroke-width="0.6"/><path d="M244.80 16.85L252.40 16.85L248.60 23.15Z" fill="#00ffff" stroke="#006060" stroke-width="0.6"/><path d="M317.30 15.30L320.60 19.50L317.30 23.70L314.00 19.50Z" fill="#ff0000" stroke="#700000" stroke-width="0.6"/>
<text x="84.8" y="22.7" class="lg">STEs</text>
<path d="M111.7 16.5L116.7 19.2L111.7 21.9M111.7 23.6L116.7 23.6" fill="none" stroke="#444" stroke-width="0.75"/>
<text x="120.8" y="22.7" class="lg">50%</text>
<text x="156.6" y="22.7" class="lg">10%</text>
<path d="M184 16.6L178.7 19.3L184 21.9M178.6 23.6L184 23.6" fill="none" stroke="#444" stroke-width="0.75"/>
<text x="188.1" y="22.7" class="lg">STEs &lt; 50%</text>
<text x="256.1" y="22.7" class="lg">STEs &lt; 10%</text>
<text x="324.7" y="21.4" class="lg">N</text>
<text x="330.9" y="25.4" class="lg" style="font-size:7px">2</text>
<text x="338.8" y="21.1" class="lg" style="letter-spacing:-0.2px">seeded</text>

</svg></body></html>
